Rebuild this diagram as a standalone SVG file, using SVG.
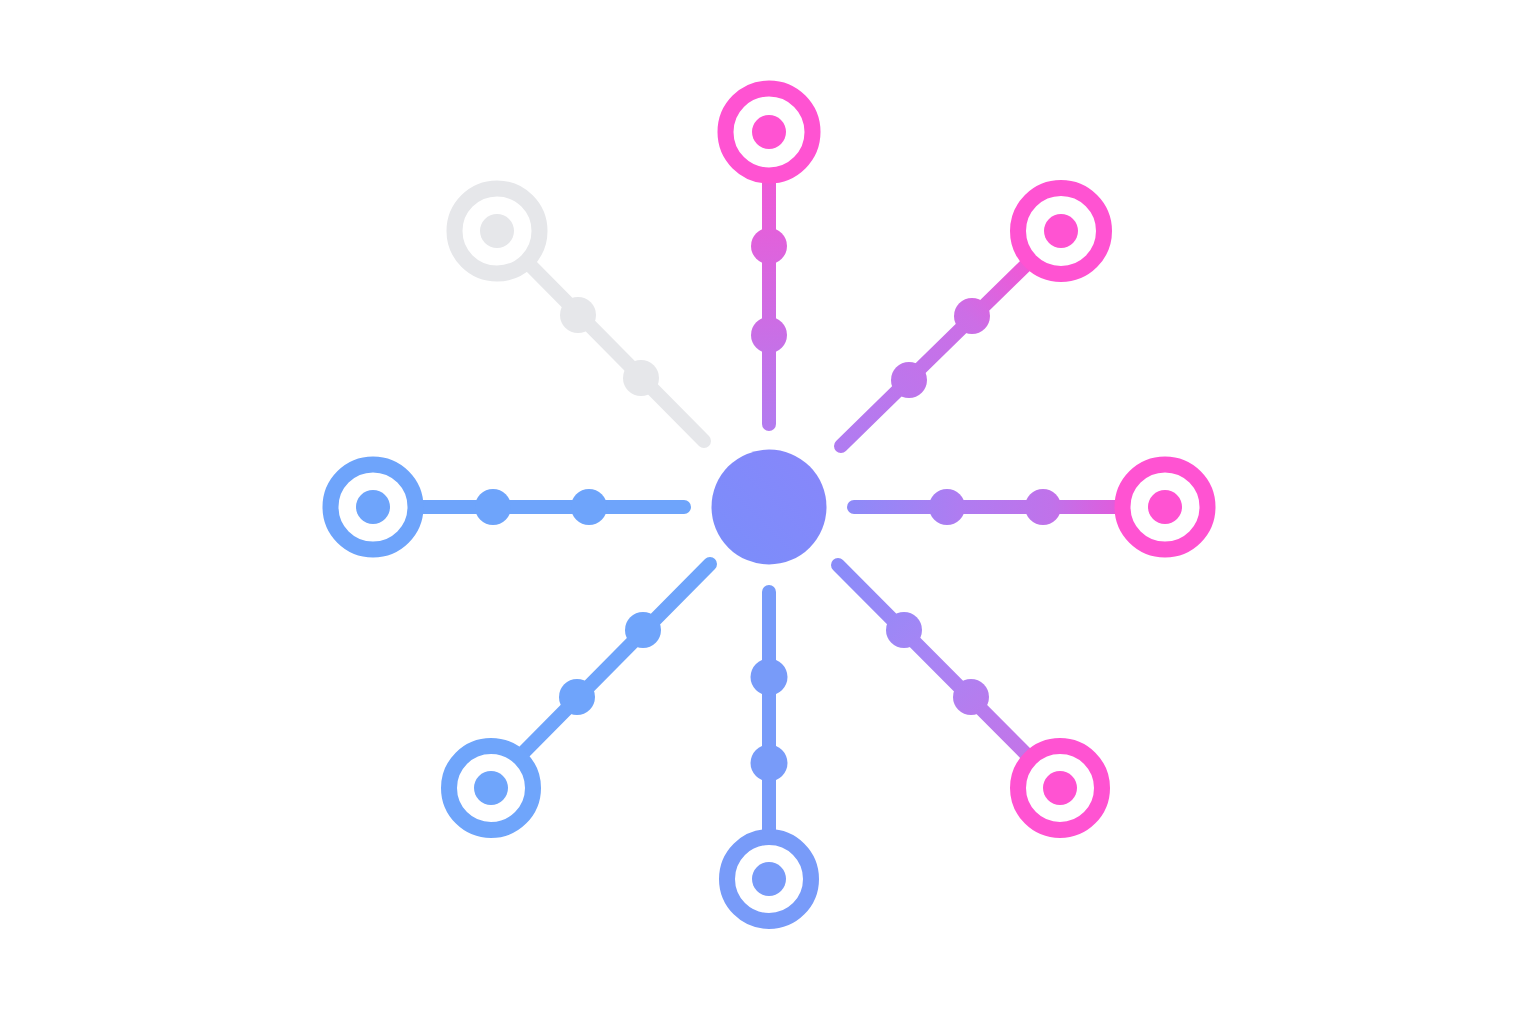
<svg xmlns="http://www.w3.org/2000/svg" width="1536" height="1024" viewBox="0 0 1536 1024">
<defs>
<style>
.spoke{stroke-width:14;stroke-linecap:round;fill:none}
.ring{fill:none;stroke-width:16}
</style>
<linearGradient id="gTop" gradientUnits="userSpaceOnUse" x1="769" y1="425" x2="769" y2="183"><stop offset="0" stop-color="#B37BEF"/><stop offset="1" stop-color="#EE5AD6"/></linearGradient>
<linearGradient id="gNE" gradientUnits="userSpaceOnUse" x1="841" y1="446" x2="1026" y2="265"><stop offset="0" stop-color="#B07CF1"/><stop offset="0.7" stop-color="#CC6EE6"/><stop offset="1" stop-color="#F058D6"/></linearGradient>
<linearGradient id="gE" gradientUnits="userSpaceOnUse" x1="854" y1="507" x2="1118" y2="507"><stop offset="0" stop-color="#8E8AF8"/><stop offset="0.4" stop-color="#AF7CF1"/><stop offset="0.75" stop-color="#C072EA"/><stop offset="1" stop-color="#E05CDC"/></linearGradient>
<linearGradient id="gSE" gradientUnits="userSpaceOnUse" x1="839" y1="566" x2="1028" y2="755"><stop offset="0" stop-color="#8A8CF9"/><stop offset="0.5" stop-color="#A984F4"/><stop offset="1" stop-color="#C474E8"/></linearGradient>
<linearGradient id="gCenter" x1="0" y1="1" x2="1" y2="0"><stop offset="0" stop-color="#7A8EFA"/><stop offset="1" stop-color="#8886FA"/></linearGradient>
</defs>
<rect width="1536" height="1024" fill="#FFFFFF"/>
<g id="connectors">
  <g id="c-top" fill="url(#gTop)">
    <line class="spoke" stroke="url(#gTop)" x1="769" y1="424" x2="769" y2="180"/>
    <circle cx="769" cy="246" r="18"/>
    <circle cx="769" cy="335" r="18"/>
  </g>
  <g id="c-ne" fill="url(#gNE)">
    <line class="spoke" stroke="url(#gNE)" x1="841" y1="446" x2="1028" y2="263"/>
    <circle cx="972" cy="316" r="18"/>
    <circle cx="909" cy="380" r="18"/>
  </g>
  <g id="c-e" fill="url(#gE)">
    <line class="spoke" stroke="url(#gE)" x1="854" y1="507" x2="1118" y2="507"/>
    <circle cx="947" cy="507" r="18"/>
    <circle cx="1043" cy="507" r="18"/>
  </g>
  <g id="c-se" fill="url(#gSE)">
    <line class="spoke" stroke="url(#gSE)" x1="838" y1="565" x2="1028" y2="756"/>
    <circle cx="904" cy="630" r="18"/>
    <circle cx="971" cy="697" r="18"/>
  </g>
  <g id="c-s" fill="#789BF9">
    <line class="spoke" stroke="#789BF9" x1="769" y1="592" x2="769" y2="832"/>
    <circle cx="769" cy="677" r="18.5"/>
    <circle cx="769" cy="763" r="18.5"/>
  </g>
  <g id="c-sw" fill="#6FA4FB">
    <line class="spoke" stroke="#6FA4FB" x1="710" y1="564" x2="522" y2="754"/>
    <circle cx="643" cy="630" r="18"/>
    <circle cx="577" cy="697" r="18"/>
  </g>
  <g id="c-w" fill="#6EA4FB">
    <line class="spoke" stroke="#6EA4FB" x1="684" y1="507" x2="420" y2="507"/>
    <circle cx="493" cy="507" r="18"/>
    <circle cx="589" cy="507" r="18"/>
  </g>
  <g id="c-nw" fill="#E6E7EA">
    <line class="spoke" stroke="#E6E7EA" x1="704" y1="441" x2="530" y2="265"/>
    <circle cx="578" cy="315" r="18"/>
    <circle cx="641" cy="378" r="18"/>
  </g>
</g>
<g id="center"><circle cx="769" cy="507" r="57.5" fill="url(#gCenter)"/></g>
<g id="node-top"><circle class="ring" cx="769" cy="132" r="43.5" stroke="#FF53D2"/><circle cx="769" cy="132" r="17" fill="#FF53D2"/></g>
<g id="node-ne"><circle class="ring" cx="1061" cy="231" r="43" stroke="#FF53D2"/><circle cx="1061" cy="231" r="17" fill="#FF53D2"/></g>
<g id="node-e"><circle class="ring" cx="1165" cy="507" r="42.5" stroke="#FF53D2"/><circle cx="1165" cy="507" r="17" fill="#FF53D2"/></g>
<g id="node-se"><circle class="ring" cx="1060" cy="788" r="42" stroke="#FF53D2"/><circle cx="1060" cy="788" r="17" fill="#FF53D2"/></g>
<g id="node-s"><circle class="ring" cx="769" cy="879" r="42" stroke="#789BF9"/><circle cx="769" cy="879" r="17" fill="#789BF9"/></g>
<g id="node-sw"><circle class="ring" cx="491" cy="788" r="42" stroke="#6FA5FB"/><circle cx="491" cy="788" r="17" fill="#6FA5FB"/></g>
<g id="node-w"><circle class="ring" cx="373" cy="507" r="42.5" stroke="#6EA4FB"/><circle cx="373" cy="507" r="17" fill="#6EA4FB"/></g>
<g id="node-nw"><circle class="ring" cx="497" cy="231" r="42.5" stroke="#E6E7EA"/><circle cx="497" cy="231" r="17" fill="#E6E7EA"/></g>
</svg>
